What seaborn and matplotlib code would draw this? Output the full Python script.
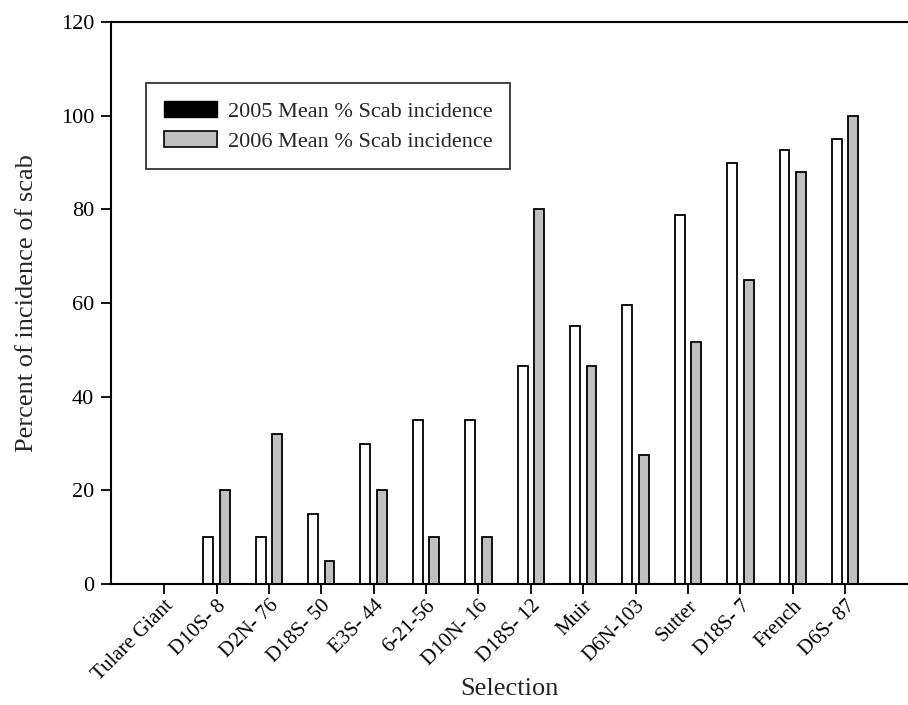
import pandas as pd
import matplotlib
matplotlib.use('Agg')
import matplotlib.pyplot as plt
from matplotlib.patches import Patch
import seaborn as sns

# data
selections = ['Tulare Giant', 'D10S- 8', 'D2N- 76', 'D18S- 50', 'E3S- 44', '6-21-56',
              'D10N- 16', 'D18S- 12', 'Muir', 'D6N-103', 'Sutter', 'D18S- 7',
              'French', 'D6S- 87']
scab_2005 = [0, 10, 10, 15, 30, 35, 35, 46.5, 55, 59.5, 78.7, 90, 92.7, 95]
scab_2006 = [0, 20, 32, 5, 20, 10, 10, 80, 46.5, 27.5, 51.7, 65, 88, 100]
series = ['2005 Mean % Scab incidence', '2006 Mean % Scab incidence']

df = pd.DataFrame({
    'Selection': selections * 2,
    'value': scab_2005 + scab_2006,
    'series': [series[0]] * len(selections) + [series[1]] * len(selections),
})

sns.set_style('white')
plt.rcParams['font.family'] = ['Liberation Serif', 'DejaVu Serif']

fig = plt.figure(figsize=(9.08, 7.05), dpi=100)
ax = fig.add_axes([0.1219, 0.1716, 0.8781, 0.7972])

sns.barplot(data=df, x='Selection', y='value', hue='series', order=selections,
            hue_order=series, palette=['white', '#c0c0c0'], width=0.63, gap=0.4,
            edgecolor='black', linewidth=1.3, errorbar=None, ax=ax, legend=False)

ax.set_xlim(-1.02, 14.2)
ax.set_ylim(0, 120)
ax.set_yticks(range(0, 121, 20))

for side in ['left', 'bottom', 'top']:
    ax.spines[side].set_visible(True)
    ax.spines[side].set_color('black')
    ax.spines[side].set_linewidth(1.5)
ax.spines['right'].set_visible(False)

ax.tick_params(axis='both', direction='out', length=7, width=1.3, colors='black',
               left=True, bottom=True)
ax.tick_params(axis='y', labelsize=16, pad=5)
ax.tick_params(axis='x', labelsize=15, pad=2)
plt.setp(ax.get_xticklabels(), rotation=45, ha='right', rotation_mode='anchor')

ax.set_xlabel('Selection', fontsize=19)
ax.xaxis.set_label_coords(0.5, -0.168)
ax.set_ylabel('Percent of incidence of scab', fontsize=19, labelpad=16)

handles = [Patch(facecolor='black', edgecolor='black'),
           Patch(facecolor='#c0c0c0', edgecolor='black', linewidth=1.2)]
leg = ax.legend(handles, series, loc='upper left', bbox_to_anchor=(0.044, 0.891),
                borderaxespad=0, fontsize=16, fancybox=False, frameon=True,
                handlelength=2.4, handleheight=0.75, handletextpad=0.5,
                labelspacing=0.4, borderpad=0.8)
leg.get_frame().set_edgecolor('black')
leg.get_frame().set_linewidth(1.3)

fig.savefig('out.png', dpi=100)
